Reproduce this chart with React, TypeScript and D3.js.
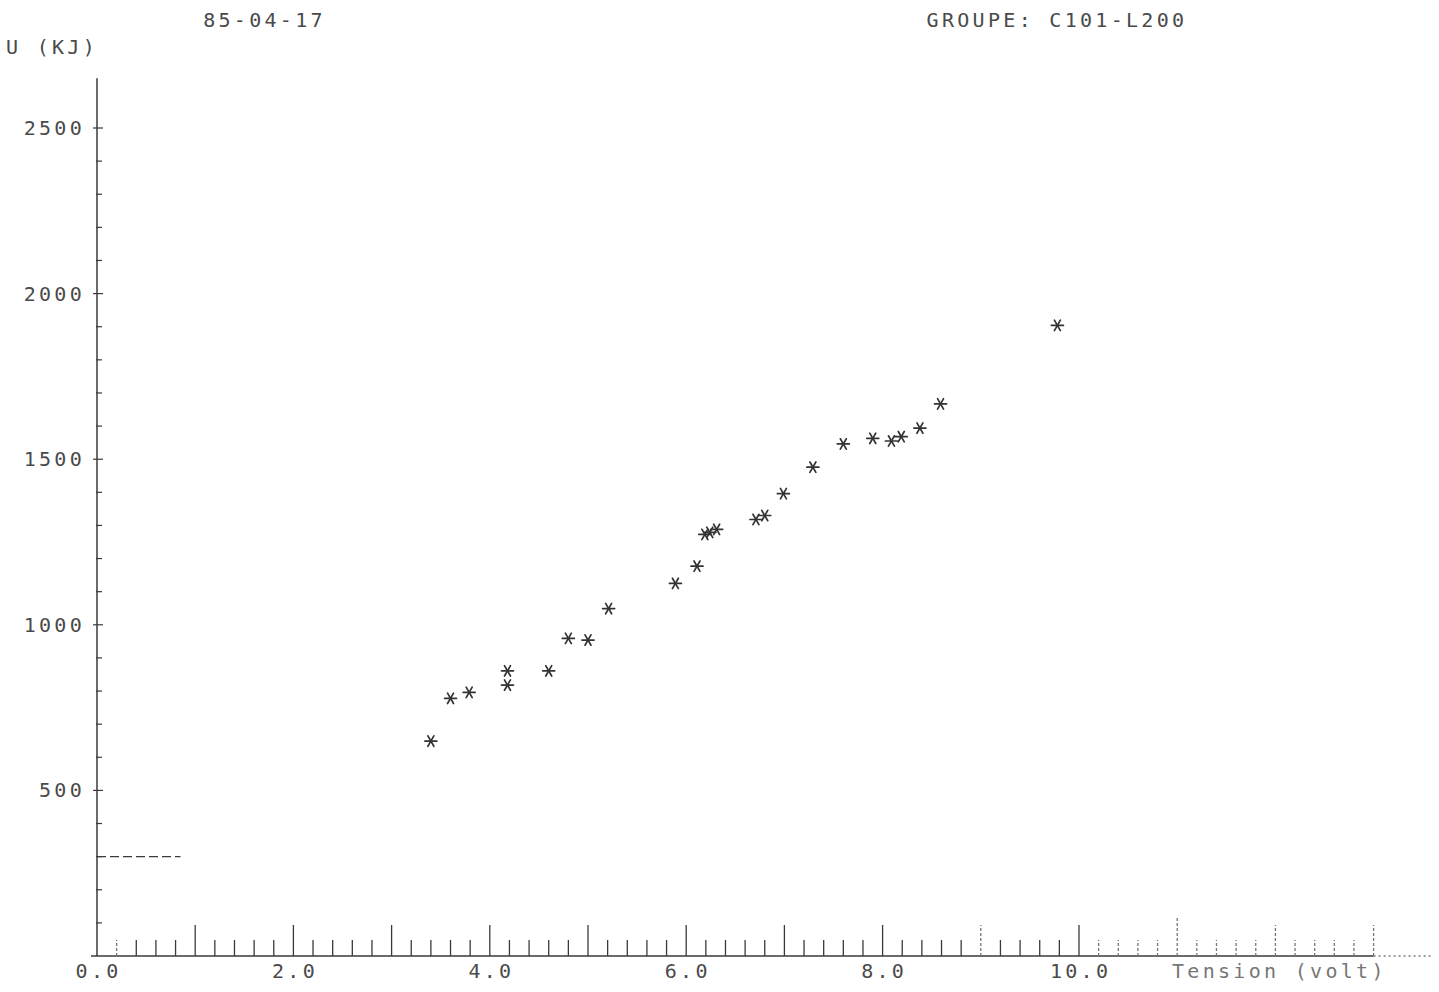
import React from "react";
import * as d3 from "d3";

// Data: Tension (volt) vs U (kJ)
const tension = [3.4, 3.6, 3.79, 4.18, 4.18, 4.6, 4.8, 5.0, 5.21, 5.89, 6.11, 6.19, 6.24, 6.31, 6.71, 6.8, 6.99, 7.29, 7.6, 7.9, 8.09, 8.19, 8.38, 8.59, 9.78];
const energy = [649, 778, 796, 861, 818, 861, 959, 954, 1049, 1125, 1177, 1273, 1279, 1288, 1318, 1330, 1396, 1476, 1546, 1563, 1555, 1568, 1594, 1667, 1904];

const yTickLabels = [500, 1000, 1500, 2000, 2500];
const xTickLabels = [0, 2, 4, 6, 8, 10];
const yMinorTicks = d3.range(1, 26).map((i) => i * 100);
const xMinorTicks = d3.range(1, 66).map((i) => +(i * 0.2).toFixed(1));
const refLine = { x0: 0, x1: 0.85, y: 300 };

const dateText = "85-04-17";
const groupText = "GROUPE: C101-L200";
const yTitle = "U  (KJ)";
const xTitle = "Tension  (volt)";

const W = 1439;
const H = 992;

export default function App() {
  const x = d3.scaleLinear().domain([0, 10]).range([97, 1079]);
  const y = d3.scaleLinear().domain([0, 2500]).range([956, 128]);

  const font = {
    fontFamily: "DejaVu Sans Mono, monospace",
    fontSize: 20,
    letterSpacing: 3.3,
    fill: "#4a4a4a",
  } as const;

  const ink = "#3a3a3a";
  const baseY = y(0);
  const arm = 6;
  const angles = [0, 60, 120];

  return (
    <svg
      width={W}
      height={H}
      style={{ position: "absolute", left: 0, top: 0, background: "#fff" }}
    >
      <rect width={W} height={H} fill="#fff" />

      {/* header texts */}
      <text x={264.5} y={20} dy="0.35em" textAnchor="middle" {...font}>
        {dateText}
      </text>
      <text x={1057} y={20} dy="0.35em" textAnchor="middle" {...font}>
        {groupText}
      </text>
      <text x={6} y={47} dy="0.35em" {...font}>
        {yTitle}
      </text>

      {/* y axis */}
      <line x1={x(0)} x2={x(0)} y1={baseY} y2={y(2650)} stroke={ink} strokeWidth={1.5} />
      {yMinorTicks.map((v) => {
        const major = v % 500 === 0;
        return (
          <line
            key={"yt" + v}
            x1={x(0) - (major ? 4 : 1)}
            x2={x(0) + (major ? 6 : 5)}
            y1={y(v)}
            y2={y(v)}
            stroke={ink}
            strokeWidth={1.2}
          />
        );
      })}
      {yTickLabels.map((v) => (
        <text key={"yl" + v} x={85} y={y(v)} dy="0.35em" textAnchor="end" {...font}>
          {String(v)}
        </text>
      ))}

      {/* x axis */}
      <line x1={x(0) - 6} x2={x(13)} y1={baseY} y2={baseY} stroke={ink} strokeWidth={1.5} />
      <line
        x1={x(13)}
        x2={1432}
        y1={baseY}
        y2={baseY}
        stroke={ink}
        strokeWidth={1.2}
        strokeDasharray="2,3"
      />
      {xMinorTicks.map((v) => {
        const isInt = Math.abs(v - Math.round(v)) < 1e-6;
        const h = isInt ? (v === 11 ? 40 : 31) : 16;
        const faint = v > 10.05 || v === 9 || v === 0.2;
        return (
          <line
            key={"xt" + v}
            x1={x(v)}
            x2={x(v)}
            y1={baseY}
            y2={baseY - h}
            stroke={faint ? "#777" : ink}
            strokeWidth={1.3}
            strokeDasharray={faint ? "3,2" : undefined}
          />
        );
      })}
      {xTickLabels.map((v) => (
        <text key={"xl" + v} x={x(v) + 1.6} y={971} dy="0.35em" textAnchor="middle" {...font}>
          {v.toFixed(1)}
        </text>
      ))}
      <text x={1172} y={971} dy="0.35em" {...font} fill="#777">
        {xTitle}
      </text>

      {/* dashed reference line */}
      <line
        x1={x(refLine.x0)}
        x2={x(refLine.x1)}
        y1={y(refLine.y)}
        y2={y(refLine.y)}
        stroke={ink}
        strokeWidth={1.3}
        strokeDasharray="9,4"
      />

      {/* asterisk markers */}
      {tension.map((t, i) => {
        const cx = x(t);
        const cy = y(energy[i]);
        return (
          <g key={"p" + i} stroke="#333" strokeWidth={1.7} strokeLinecap="round">
            {angles.map((a) => {
              const r = (a * Math.PI) / 180;
              const dx = Math.cos(r) * arm;
              const dy = Math.sin(r) * arm;
              return <line key={a} x1={cx - dx} y1={cy - dy} x2={cx + dx} y2={cy + dy} />;
            })}
          </g>
        );
      })}
    </svg>
  );
}
